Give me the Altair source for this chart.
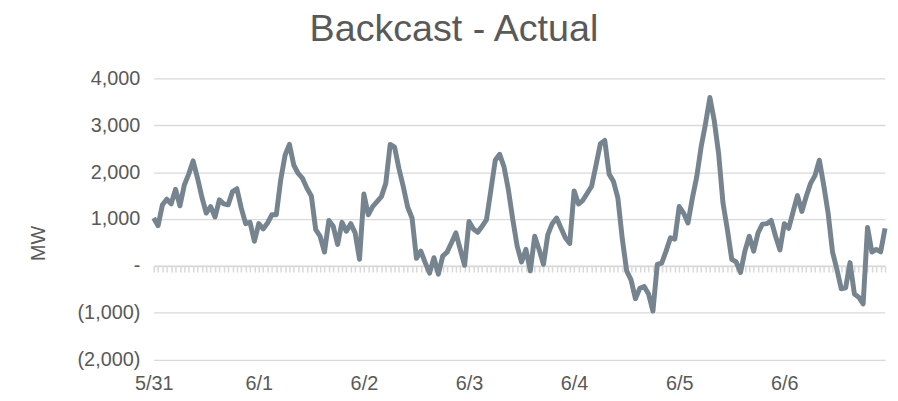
import altair as alt
import pandas as pd

# Hourly backcast minus actual, 5/31 00:00 .. 6/6 23:00 (MW)
hours = list(range(168))
mw = [
    1020, 858, 1302, 1423, 1323, 1634, 1281, 1725, 1958, 2240, 1880, 1470,
    1127, 1266, 1042, 1408, 1323, 1302, 1584, 1647, 1232, 900, 928, 526,
    901, 788, 915, 1091, 1091, 1830, 2360, 2592, 2148, 1972, 1867, 1655,
    1493, 774, 632, 294, 970, 844, 457, 928, 738, 901, 704, 140,
    1535, 1091, 1266, 1372, 1478, 1761, 2592, 2535, 2078, 1689, 1250, 1021,
    160, 315, 70, -156, 175, -178, 209, 294, 493, 704, 351, 13,
    949, 788, 717, 844, 985, 1619, 2254, 2380, 2112, 1619, 985, 421,
    83, 351, -107, 632, 351, 34, 668, 901, 1021, 809, 598, 478,
    1600, 1320, 1400, 1550, 1700, 2148, 2607, 2677, 1958, 1800, 1444, 580,
    -107, -300, -700, -480, -440, -600, -965, 34, 60, 315, 598, 570,
    1266, 1127, 915, 1444, 1901, 2535, 3030, 3592, 3099, 2395, 1338, 774,
    140, 83, -142, 315, 632, 315, 704, 890, 901, 970, 632, 340,
    901, 800, 1150, 1500, 1161, 1480, 1761, 1926, 2254, 1720, 1127, 300,
    -72, -490, -470, 70, -600, -670, -812, 820, 294, 351, 300, 800,
]
day_labels = ["5/31", "6/1", "6/2", "6/3", "6/4", "6/5", "6/6"]
day_starts = [0, 24, 48, 72, 96, 120, 144]
y_ticks = [-2000, -1000, 0, 1000, 2000, 3000, 4000]

df = pd.DataFrame({"hour": hours, "mw": mw})

FONT = "Liberation Sans"
TEXT = "#595959"
GRID = "#d9d9d9"

label_arr = "[" + ",".join("'%s'" % d for d in day_labels) + "]"
x_scale = alt.Scale(domain=[0, 167], nice=False, zero=False)
y_scale = alt.Scale(domain=[-2000, 4000], nice=False)

y_axis = alt.Axis(
    values=y_ticks,
    labelExpr="datum.value == 0 ? '-' : (datum.value < 0 ? '(' + format(-datum.value, ',') + ')' : format(datum.value, ','))",
    grid=True, gridColor=GRID, gridWidth=1.3,
    domain=False, ticks=False, labelPadding=14, labelFlush=False,
    labelFontSize=20, labelFont=FONT, labelColor=TEXT,
    title="MW", titleFont=FONT, titleFontSize=20,
    titleFontWeight="normal", titleColor=TEXT,
    titleX=-110, titleY=166, titleBaseline="alphabetic",
)

base = alt.Chart(df)

zero_axis = base.mark_line(opacity=0).encode(
    x=alt.X("hour:Q", scale=x_scale,
            axis=alt.Axis(orient="bottom", values=hours, labels=False,
                          grid=False, domain=True, domainColor=GRID,
                          domainWidth=1.5, ticks=True, tickColor=GRID,
                          tickWidth=1.5, tickSize=6, offset=-94.4,
                          title=None)),
    y=alt.Y("mw:Q", scale=y_scale, axis=y_axis),
)

line = base.mark_line(color="#76848f", strokeWidth=5, strokeJoin="round").encode(
    x=alt.X("hour:Q", scale=x_scale,
            axis=alt.Axis(orient="bottom", values=day_starts,
                          labelExpr=label_arr + "[round(datum.value/24)]",
                          grid=False, domain=False, ticks=False,
                          labelFlush=False, labelPadding=14,
                          labelFontSize=20, labelFont=FONT,
                          labelColor=TEXT, title=None)),
    y=alt.Y("mw:Q", scale=y_scale, axis=y_axis),
)

chart = alt.layer(zero_axis, line).resolve_axis(x="independent").properties(
    width=738,
    height=283.7,
    autosize="none",
    padding={"left": 147, "top": 69.3, "right": 5, "bottom": 38},
    title=alt.TitleParams("Backcast - Actual", fontSize=38, font=FONT,
                          fontWeight="normal", color=TEXT, anchor="middle",
                          dx=-66, offset=20),
).configure_view(stroke=None)

chart.save("out.html", embed_options={"renderer": "svg", "actions": False})
